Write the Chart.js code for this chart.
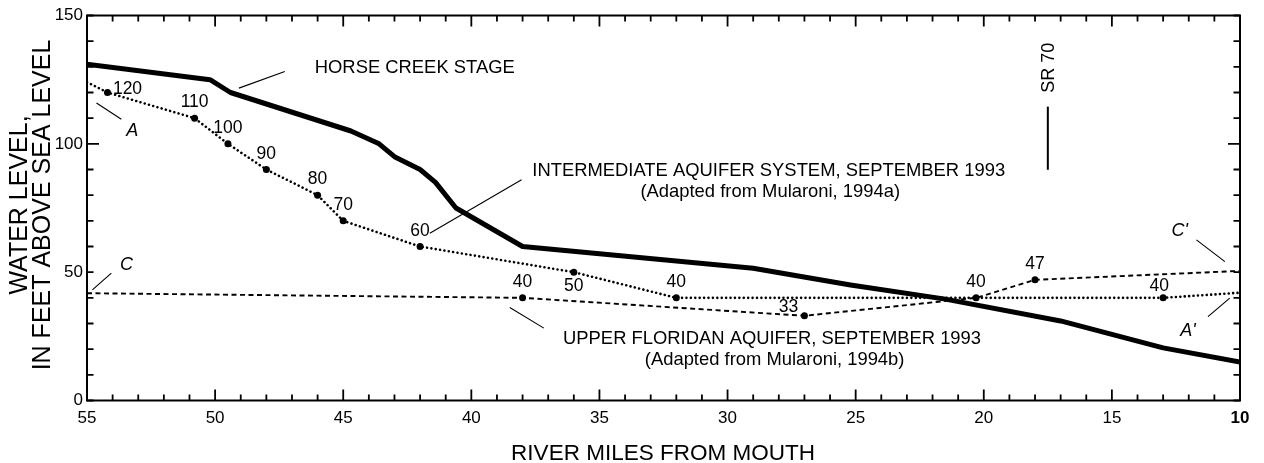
<!DOCTYPE html>
<html>
<head>
<meta charset="utf-8">
<script src="https://cdn.jsdelivr.net/npm/chart.js@4/dist/chart.umd.min.js"></script>
<style>
  html, body { margin: 0; padding: 0; background: #fff; }
  #wrap { width: 1264px; height: 463px; }
</style>
</head>
<body>
<div id="wrap"><canvas id="myChart" width="1264" height="463"></canvas></div>
<script>
// river miles from mouth and water levels (feet above sea level)
const hcMiles = [55, 50.2, 49.4, 44.7, 43.6, 43, 42, 41.4, 40.6, 38, 29, 25.2, 21.5, 17, 13, 10];
const hcLevels = [131, 125, 120, 105, 100, 95, 90, 85, 75, 60, 51.5, 45, 39.5, 31, 20.5, 15];

const iasMiles = [55, 54.2, 50.8, 49.5, 48, 46, 45, 42, 36, 32, 13, 10];
const iasLevels = [124, 120, 110, 100, 90, 80, 70, 60, 50, 40, 40, 42];
const iasLabels = ['', '120', '110', '100', '90', '80', '70', '60', '50', '40', '40', ''];

const ufaMiles = [55, 38, 27, 20.3, 18, 10];
const ufaLevels = [41.8, 40, 33, 40, 47, 50.5];
const ufaLabels = ['', '40', '33', '40', '47', ''];

const xTickLabels = [55, 50, 45, 40, 35, 30, 25, 20, 15, 10];
const yTickLabels = [0, 50, 100, 150];

const FONT = '"Liberation Sans", Arial, Helvetica, sans-serif';

function toPoints(xs, ys) {
    let pts = [];
    for (let i = 0; i < xs.length; i++) {
        pts.push({ x: xs[i], y: ys[i] });
    }
    return pts;
}

// pixel nudges for the point labels (default is centred above the dot)
const iasLabelShift = { 1: [20, -5], 8: [0, 13], 10: [-4, -13] };
const ufaLabelShift = { 2: [-16, -10] };

// text notes, placed in data units
const notes = [
    { text: 'HORSE CREEK STAGE', mile: 46.11, level: 130.1 },
    { text: 'INTERMEDIATE AQUIFER SYSTEM, SEPTEMBER 1993', mile: 37.62, level: 89.9 },
    { text: '(Adapted from Mularoni, 1994a)', mile: 33.4, level: 81.7 },
    { text: 'UPPER FLORIDAN AQUIFER, SEPTEMBER 1993', mile: 36.42, level: 24.7 },
    { text: '(Adapted from Mularoni, 1994b)', mile: 33.23, level: 16.5 }
];
const letters = [
    { text: 'C', mile: 53.46, level: 53.5 },
    { text: 'A', mile: 53.23, level: 105.5 },
    { text: "C'", mile: 12.35, level: 66.5 },
    { text: "A'", mile: 12.03, level: 27.5 }
];
const leaders = [
    [49.07, 121.7, 47.28, 128.2],
    [41.62, 65.2, 38.04, 86.0],
    [38.5, 36.2, 37.17, 28.2],
    [54.79, 43.1, 54.05, 49.6],
    [54.63, 115.9, 53.66, 109.6],
    [11.70, 62.6, 10.59, 54.1],
    [11.25, 32.7, 10.40, 39.9]
];

function drawPointLabels(ctx, chart, dsIndex, labels, shift) {
    const meta = chart.getDatasetMeta(dsIndex);
    ctx.font = '17.5px ' + FONT;
    ctx.textAlign = 'center';
    ctx.textBaseline = 'alphabetic';
    for (let i = 0; i < labels.length; i++) {
        if (!labels[i]) continue;
        const el = meta.data[i];
        const s = shift[i] || [0, -17];
        ctx.fillText(labels[i], el.x + s[0], el.y + s[1] + 6.3);
    }
}

const overlayPlugin = {
    id: 'overlay',
    afterDatasetsDraw(chart) {
        const ctx = chart.ctx;
        const x = chart.scales.x;
        const y = chart.scales.y;
        const a = chart.chartArea;
        ctx.save();
        ctx.strokeStyle = '#000';
        ctx.fillStyle = '#000';

        // frame
        ctx.lineWidth = 2;
        ctx.strokeRect(a.left, a.top, a.right - a.left, a.bottom - a.top);

        // inward ticks on all four sides
        ctx.lineWidth = 1.8;
        ctx.beginPath();
        for (let m = 10; m <= 55; m++) {
            const px = x.getPixelForValue(m);
            const len = m % 5 === 0 ? 11 : 6;
            ctx.moveTo(px, a.bottom); ctx.lineTo(px, a.bottom - len);
            ctx.moveTo(px, a.top); ctx.lineTo(px, a.top + len);
        }
        for (let v = 0; v <= 150; v += 10) {
            const py = y.getPixelForValue(v);
            const len = v === 100 ? 12 : 6.5;
            ctx.moveTo(a.left, py); ctx.lineTo(a.left + len, py);
            ctx.moveTo(a.right, py); ctx.lineTo(a.right - len, py);
        }
        ctx.stroke();

        // leader lines
        ctx.lineWidth = 1.1;
        ctx.beginPath();
        leaders.forEach(l => {
            ctx.moveTo(x.getPixelForValue(l[0]), y.getPixelForValue(l[1]));
            ctx.lineTo(x.getPixelForValue(l[2]), y.getPixelForValue(l[3]));
        });
        ctx.stroke();

        // SR 70 marker
        const srX = x.getPixelForValue(17.5);
        ctx.lineWidth = 2;
        ctx.beginPath();
        ctx.moveTo(srX, y.getPixelForValue(114.5));
        ctx.lineTo(srX, y.getPixelForValue(89.9));
        ctx.stroke();
        ctx.save();
        ctx.translate(srX + 6.5, y.getPixelForValue(129.6));
        ctx.rotate(-Math.PI / 2);
        ctx.font = '18px ' + FONT;
        ctx.textAlign = 'center';
        ctx.textBaseline = 'alphabetic';
        ctx.fillText('SR 70', 0, 0);
        ctx.restore();

        // notes
        ctx.font = '18.4px ' + FONT;
        ctx.textAlign = 'left';
        ctx.textBaseline = 'alphabetic';
        notes.forEach(n => {
            ctx.fillText(n.text, x.getPixelForValue(n.mile), y.getPixelForValue(n.level) + 6.6);
        });
        ctx.font = 'italic 18px ' + FONT;
        ctx.textAlign = 'center';
        letters.forEach(n => {
            ctx.fillText(n.text, x.getPixelForValue(n.mile), y.getPixelForValue(n.level) + 6.5);
        });

        // point labels
        drawPointLabels(ctx, chart, 1, iasLabels, iasLabelShift);
        drawPointLabels(ctx, chart, 2, ufaLabels, ufaLabelShift);

        // axis titles
        ctx.font = '25px ' + FONT;
        ctx.textAlign = 'center';
        ctx.save();
        ctx.translate(27, 205);
        ctx.rotate(-Math.PI / 2);
        ctx.fillText('WATER LEVEL,', 0, 0);
        ctx.restore();
        ctx.save();
        ctx.translate(50, 205);
        ctx.rotate(-Math.PI / 2);
        ctx.fillText('IN FEET ABOVE SEA LEVEL', 0, 0);
        ctx.restore();
        ctx.font = '22.5px ' + FONT;
        ctx.fillText('RIVER MILES FROM MOUTH', 663, 460);

        ctx.restore();
    }
};

const ctx = document.getElementById('myChart').getContext('2d');
new Chart(ctx, {
    type: 'line',
    data: {
        datasets: [
            {
                data: toPoints(hcMiles, hcLevels),
                borderColor: '#000',
                borderWidth: 5,
                borderJoinStyle: 'round',
                pointRadius: 0,
                tension: 0
            },
            {
                data: toPoints(iasMiles, iasLevels),
                borderColor: '#000',
                borderWidth: 2.6,
                borderDash: [0.01, 4.4],
                borderCapStyle: 'round',
                pointRadius: iasLabels.map(t => t ? 3.5 : 0),
                pointBackgroundColor: '#000',
                pointBorderWidth: 0,
                tension: 0
            },
            {
                data: toPoints(ufaMiles, ufaLevels),
                borderColor: '#000',
                borderWidth: 1.9,
                borderDash: [5, 3.5],
                pointRadius: ufaLabels.map(t => t ? 3.5 : 0),
                pointBackgroundColor: '#000',
                pointBorderWidth: 0,
                tension: 0
            }
        ]
    },
    options: {
        responsive: false,
        animation: false,
        layout: { padding: { left: 0, right: 24, top: 15.5, bottom: 0 } },
        scales: {
            x: {
                type: 'linear',
                reverse: true,
                min: 10,
                max: 55,
                grid: { display: false, drawTicks: false },
                border: { display: false },
                afterFit: s => { s.height = 62.5; },
                ticks: {
                    stepSize: 1,
                    autoSkip: false,
                    maxRotation: 0,
                    padding: 8,
                    color: '#000',
                    font: c => ({ family: FONT, size: 17, weight: c.tick && c.tick.value === 10 ? 'bold' : 'normal' }),
                    callback: v => xTickLabels.includes(v) ? String(v) : ''
                }
            },
            y: {
                type: 'linear',
                min: 0,
                max: 150,
                grid: { display: false, drawTicks: false },
                border: { display: false },
                afterFit: s => { s.width = 87; },
                ticks: {
                    stepSize: 10,
                    autoSkip: false,
                    padding: 4,
                    color: '#000',
                    font: { family: FONT, size: 17 },
                    callback: v => yTickLabels.includes(v) ? String(v) : ''
                }
            }
        },
        plugins: {
            legend: { display: false },
            tooltip: { enabled: false }
        }
    },
    plugins: [overlayPlugin]
});
</script>
</body>
</html>
